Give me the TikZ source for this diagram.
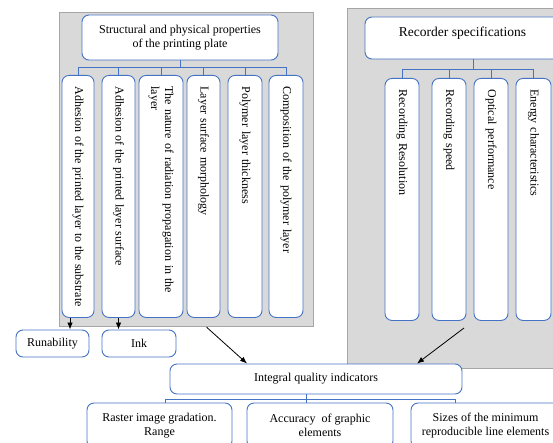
\documentclass[tikz,border=0pt]{standalone}
\usepackage{fontspec}
\setmainfont{Liberation Serif}
\usetikzlibrary{arrows.meta}
\definecolor{boxblue}{HTML}{4472C4}
\definecolor{panelgray}{HTML}{D9D9D9}
\definecolor{panelline}{HTML}{A6A6A6}

\begin{document}
\begin{tikzpicture}[x=1pt,y=1pt,
    box/.style={draw=boxblue, line width=0.9pt, fill=white, rounded corners=7pt,
      align=center, inner sep=0pt, font=\fontsize{12}{14}\selectfont},
    vbox/.style={box, rotate=-90, anchor=west, align=left, inner xsep=11pt,
      text width=220pt, minimum height=#1},
    panel/.style={draw=panelline, fill=panelgray, line width=1.2pt, inner sep=0pt,
      anchor=north west},
    bus/.style={draw=boxblue, line width=0.9pt},
    arr/.style={-{Latex[length=7pt,width=5.5pt]}, line width=0.8pt}]
  \useasboundingbox (0,0) rectangle (553,-443);
  \clip (0,0) rectangle (553,-443);

  % grey panels
  \node[panel, minimum width=254, minimum height=314] (lp) at (59,-12) {};
  \node[panel, minimum width=215, minimum height=360] (rp) at (347,-8) {};

  % printing plate
  \node[box, minimum width=196, minimum height=45] (plate) at (180,-37.5)
    {Structural and physical properties\\of the printing plate};
  \node[vbox=32pt] (l1) at (78,-75)
    {\mbox{\spaceskip=3.6pt Adhesion of the printed layer to the substrate}};
  \node[vbox=33pt] (l2) at (118.5,-75)
    {\mbox{\spaceskip=3.3pt Adhesion of the printed layer surface}};
  \node[vbox=44pt] (l3) at (161,-75) {The nature of radiation propagation in the\\layer};
  \node[vbox=33pt] (l4) at (203.5,-75) {Layer surface morphology};
  \node[vbox=34pt] (l5) at (245,-75) {Polymer layer thickness};
  \node[vbox=34pt] (l6) at (286,-75) {Composition of the polymer layer};
  \draw[bus] (plate.south) -- ++(0,-7) coordinate (lbus);
  \foreach \n in {l1,l2,l3,l4,l5,l6}
    \draw[bus] (\n.west) |- (lbus);

  % recorder
  \node[box, minimum width=195, minimum height=42, font=\fontsize{13.5}{15}\selectfont]
    (rec) at (462.5,-38) {Recorder specifications\\[-3pt]~};
  \node[vbox=34pt] (r1) at (402,-78) {Recording Resolution};
  \node[vbox=34pt] (r2) at (449,-78) {Recording speed};
  \node[vbox=34pt] (r3) at (491,-78) {Optical performance};
  \node[vbox=35pt] (r4) at (533.5,-78) {Energy characteristics};
  \draw[bus] ([xshift=10.5pt]rec.south) -- ++(0,-10) coordinate (rbus);
  \foreach \n in {r1,r2,r3,r4}
    \draw[bus] (\n.west) |- (rbus);

  % outputs of the plate
  \node[box, minimum width=73, minimum height=27] (run) at (52.5,-343.5) {Runability};
  \node[box, minimum width=74, minimum height=27] (ink) at (139,-343.5) {Ink};
  \coordinate (t1) at ([xshift=-8pt]l1.east);
  \draw[arr] (t1) -- (t1 |- run.north);
  \draw[arr] (l2.east) -- (l2.east |- ink.north);

  % integral indicators
  \node[box, minimum width=292, minimum height=30] (iq) at (316,-379)
    {Integral quality indicators};
  \node[box, minimum width=145, minimum height=45] (b1) at (159.5,-425.5)
    {Raster image gradation.\\Range};
  \node[box, minimum width=146, minimum height=45] (b2) at (320,-425.5)
    {Accuracy \ of graphic\\elements};
  \node[box, minimum width=149, minimum height=45] (b3) at (485.5,-425.5)
    {Sizes of the minimum\\reproducible line elements};
  \draw[bus] ([xshift=-10pt]iq.south) -- ++(0,-5) coordinate (bbus);
  \draw[bus] ([xshift=6pt]b1.north) |- (bbus);
  \draw[bus] ([xshift=-14pt]b2.north) |- (bbus);
  \draw[bus] ([xshift=-30pt]b3.north) |- (bbus);

  \coordinate (rs) at (464,-328);
  \draw[arr] ([xshift=20pt]lp.south) -- ([xshift=-69pt]iq.north);
  \draw[arr] (rs) -- ([xshift=101pt]iq.north);
\end{tikzpicture}
\end{document}
